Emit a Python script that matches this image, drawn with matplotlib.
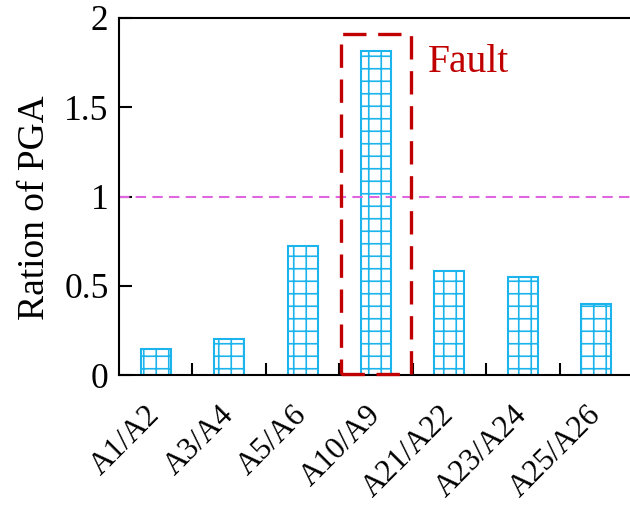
import matplotlib.pyplot as plt
from matplotlib.patches import Rectangle
import numpy as np

plt.rcParams['font.family'] = ['Liberation Serif', 'DejaVu Serif']
plt.rcParams['hatch.linewidth'] = 0.8

# data
pairs = ['A1/A2', 'A3/A4', 'A5/A6', 'A10/A9', 'A21/A22', 'A23/A24', 'A25/A26']
pga_ratio = [0.145, 0.20, 0.72, 1.815, 0.58, 0.55, 0.40]
fault_idx = 3
fault_label = 'Fault'

bar_color = '#1cb4ec'
fault_color = '#c00000'
ref_color = '#e066e0'

fig = plt.figure(figsize=(4.2, 505 / 150), dpi=150)
ax = fig.add_axes([119 / 630, 1 - 375 / 505, 514 / 630, 357 / 505])

x = np.arange(len(pairs))
ax.bar(x, pga_ratio, width=0.41, facecolor='white', edgecolor=bar_color,
       hatch='++', linewidth=1.0)

# reference line at ratio 1
ax.axhline(1, color=ref_color, linestyle=(0, (5, 3)), linewidth=1.0)

# dashed box around the fault pair
ax.add_patch(Rectangle((fault_idx - 0.476, 0.005), 0.952, 1.905, fill=False,
                       edgecolor=fault_color, linewidth=1.6,
                       linestyle=(0, (7, 3.5)), clip_on=False, zorder=5))
ax.text(fault_idx + 0.7, 1.70, fault_label, color=fault_color, fontsize=19,
        ha='left', va='baseline')

ax.set_xlim(-0.5, 6.5)
ax.set_ylim(0, 2)
ax.set_yticks([0, 0.5, 1, 1.5, 2])
ax.set_yticklabels(['0', '0.5', '1', '1.5', '2'])
ax.set_xticks(x)
ax.set_xticklabels(pairs, rotation=45, ha='right', va='center',
                   rotation_mode='anchor')
ax.set_xticks(x[:-1] + 0.5, minor=True)

ax.tick_params(axis='y', direction='in', length=6, width=1, labelsize=17, pad=5)
ax.tick_params(axis='x', which='major', length=0, labelsize=15, pad=17)
ax.tick_params(axis='x', which='minor', direction='in', length=6, width=1)
ax.spines['right'].set_visible(False)
for s in ['left', 'bottom', 'top']:
    ax.spines[s].set_linewidth(1.0)

ax.set_ylabel('Ration of PGA', fontsize=18)
ax.yaxis.set_label_coords(-0.13, 0.47)

fig.savefig('out.png', dpi=150)
